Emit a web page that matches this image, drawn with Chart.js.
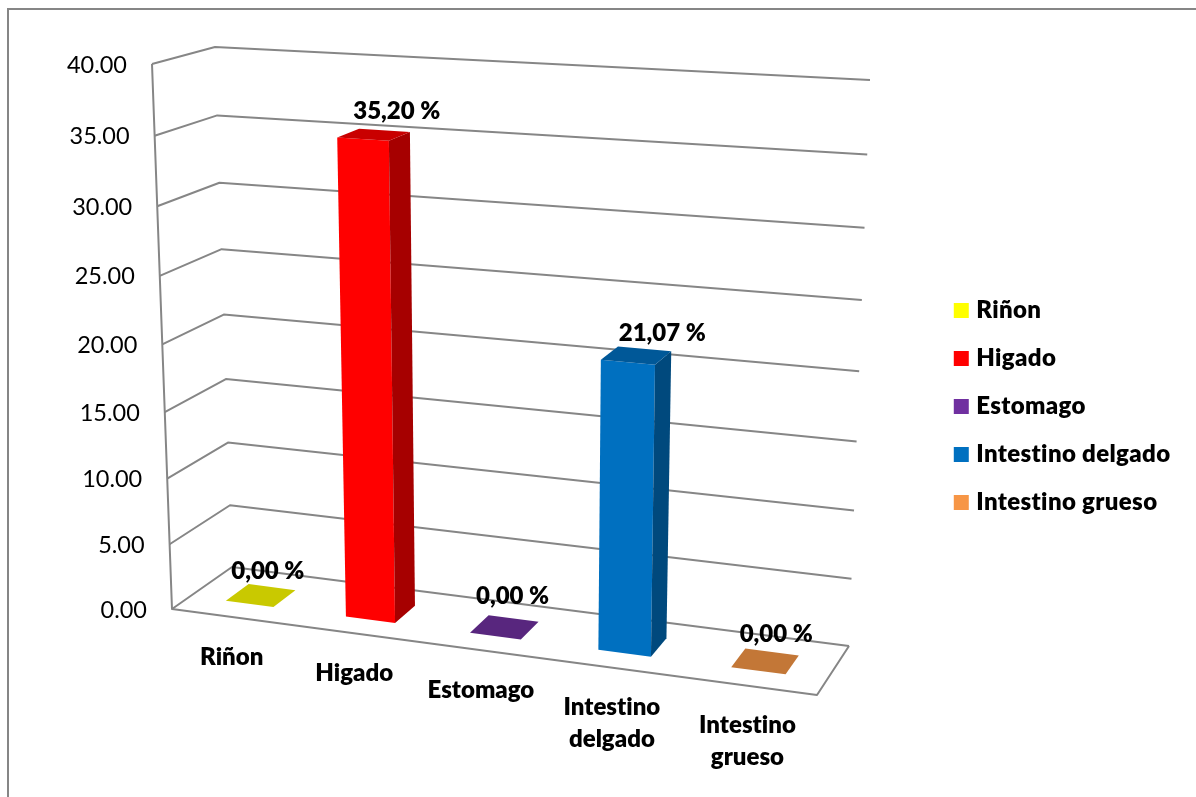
<!DOCTYPE html>
<html lang="es">
<head>
<meta charset="utf-8">
<title>Órganos</title>
<style>
  html, body { margin: 0; padding: 0; background: #fff; overflow: hidden; }
  #contenedor { width: 1196px; height: 797px; }
</style>
<script src="https://cdn.jsdelivr.net/npm/chart.js@4/dist/chart.umd.min.js"></script>
</head>
<body>
<div id="contenedor"><canvas id="grafico"></canvas></div>
<script>
const categorias = ['Riñon', 'Higado', 'Estomago', 'Intestino delgado', 'Intestino grueso'];
const lineasCategoria = [['Riñon'], ['Higado'], ['Estomago'], ['Intestino', 'delgado'], ['Intestino', 'grueso']];
const valores = [0, 35.20, 0, 21.07, 0];
const etiquetasValor = ['0,00 %', '35,20 %', '0,00 %', '21,07 %', '0,00 %'];
const etiquetasEjeY = ['0.00', '5.00', '10.00', '15.00', '20.00', '25.00', '30.00', '35.00', '40.00'];
const colores = ['#FFFF00', '#FF0000', '#7030A0', '#0070C0', '#F79646'];

const COLOR_LINEA = '#868686';
const FUENTE = 'Lato, sans-serif';
const PESO_NEGRITA = '800';

// Caja de perspectiva: plano frontal y plano del fondo, en pixeles
const CAJA = {
  frente: { bi: [172, 609], bd: [817, 695], ai: [152, 64], ad: [834, 105] },
  fondo: { bi: [232, 567], bd: [849, 646], ai: [215, 47], ad: [870, 80] }
};
const FONDO_BARRA = [0.31, 0.70]; // profundidad ocupada por cada barra
const CONV_X = 1.088;
const CONV_Y = 1.06;
const AJUSTE_ETIQUETA = [[7, -24], [23, -23], [8, -31], [26, -22], [11, -27]];

const mezcla = (a, b, t) => [a[0] + (b[0] - a[0]) * t, a[1] + (b[1] - a[1]) * t];
const fuga = (t, c) => t / (t + c * (1 - t));

function puntoPlano(plano, u, v) {
  return mezcla(mezcla(plano.bi, plano.bd, u), mezcla(plano.ai, plano.ad, u), v);
}

// u y v ya deformados, d: 0 al frente, 1 al fondo
function proyectar(u, v, d) {
  return mezcla(puntoPlano(CAJA.frente, u, v), puntoPlano(CAJA.fondo, u, v), d);
}

function oscurecer(hex, factor) {
  const n = parseInt(hex.slice(1), 16);
  const canal = (s) => Math.round(((n >> s) & 255) * factor);
  return `rgb(${canal(16)},${canal(8)},${canal(0)})`;
}

function linea(ctx, puntos) {
  ctx.beginPath();
  puntos.forEach((p, i) => (i ? ctx.lineTo(p[0], p[1]) : ctx.moveTo(p[0], p[1])));
  ctx.stroke();
}

function cara(ctx, puntos, color) {
  ctx.fillStyle = color;
  ctx.beginPath();
  puntos.forEach((p, i) => (i ? ctx.lineTo(p[0], p[1]) : ctx.moveTo(p[0], p[1])));
  ctx.closePath();
  ctx.fill();
}

function texto(ctx, cadena, x, y, alineado, fuente) {
  ctx.font = fuente;
  ctx.fillStyle = '#000';
  ctx.textAlign = alineado;
  ctx.textBaseline = 'middle';
  ctx.fillText(cadena, x, y);
}

function dibujarParedes(ctx, escalaY) {
  ctx.strokeStyle = COLOR_LINEA;
  ctx.lineWidth = 2;
  ctx.lineJoin = 'round';

  escalaY.ticks.forEach((tick, i) => {
    const pix = escalaY.getPixelForValue(tick.value);
    const v = fuga((escalaY.bottom - pix) / escalaY.height, CONV_Y);
    linea(ctx, [proyectar(0, v, 0), proyectar(0, v, 1), proyectar(1, v, 1)]);
    const p = proyectar(0, v, 0);
    texto(ctx, etiquetasEjeY[i], p[0] - 25, p[1] + 1, 'right', `23.5px ${FUENTE}`);
  });

  linea(ctx, [proyectar(0, 1, 0), proyectar(0, 0, 0), proyectar(1, 0, 0), proyectar(1, 0, 1)]);
}

function dibujarBarras(chart, ctx) {
  const area = chart.chartArea;
  const barras = chart.getDatasetMeta(0).data;
  const negrita = `${PESO_NEGRITA} 24px ${FUENTE}`;

  barras.forEach((barra, i) => {
    const uI = fuga((barra.x - barra.width / 2 - area.left) / area.width, CONV_X);
    const uD = fuga((barra.x + barra.width / 2 - area.left) / area.width, CONV_X);
    const alto = fuga((area.bottom - barra.y) / area.height, CONV_Y);
    const [d0, d1] = FONDO_BARRA;
    const color = colores[i];

    if (alto > 0) {
      cara(ctx, [proyectar(uI, 0, d0), proyectar(uD, 0, d0), proyectar(uD, alto, d0), proyectar(uI, alto, d0)], color);
      cara(ctx, [proyectar(uD, 0, d0), proyectar(uD, 0, d1), proyectar(uD, alto, d1), proyectar(uD, alto, d0)], oscurecer(color, 0.65));
    }
    cara(ctx, [proyectar(uI, alto, d0), proyectar(uD, alto, d0), proyectar(uD, alto, d1), proyectar(uI, alto, d1)], oscurecer(color, 0.79));

    const centro = proyectar((uI + uD) / 2, alto, (d0 + d1) / 2);
    const ajuste = AJUSTE_ETIQUETA[i];
    texto(ctx, etiquetasValor[i], centro[0] + ajuste[0], centro[1] + ajuste[1], 'center', negrita);

    const base = proyectar(fuga((barra.x - area.left) / area.width, CONV_X), 0, 0);
    lineasCategoria[i].forEach((t, n) => {
      texto(ctx, t, base[0], base[1] + 40 + n * 32, 'center', negrita);
    });
  });
}

const perspectiva = {
  id: 'perspectiva',
  beforeDraw(chart) {
    const ctx = chart.ctx;
    // sin ligaduras en "ti"; la leyenda se pinta antes que las barras y lleva algo mas de aire
    ctx.textRendering = 'optimizeSpeed';
    ctx.letterSpacing = '0.35px';
    ctx.save();
    ctx.strokeStyle = COLOR_LINEA;
    ctx.lineWidth = 2;
    linea(ctx, [[8, chart.height], [8, 9], [chart.width, 9]]);
    ctx.restore();
  },
  // Las barras planas no se pintan: se redibujan con sus caras en perspectiva
  beforeDatasetsDraw(chart) {
    const ctx = chart.ctx;
    ctx.letterSpacing = '0px';
    ctx.save();
    dibujarParedes(ctx, chart.scales.y);
    dibujarBarras(chart, ctx);
    ctx.restore();
    return false;
  }
};

new Chart(document.getElementById('grafico'), {
  type: 'bar',
  data: {
    labels: categorias,
    datasets: [{ data: valores, backgroundColor: colores, categoryPercentage: 0.8, barPercentage: 0.5 }]
  },
  options: {
    responsive: true,
    maintainAspectRatio: false,
    animation: false,
    layout: { padding: { top: 16, right: 21 } },
    scales: {
      x: { display: false },
      y: { display: false, min: 0, max: 40, ticks: { stepSize: 5 } }
    },
    plugins: {
      tooltip: { enabled: false },
      legend: {
        position: 'right',
        labels: {
          boxWidth: 6,
          boxHeight: 6,
          padding: 24,
          color: '#000',
          font: { family: 'Lato', size: 24, weight: PESO_NEGRITA },
          // el trazo ensancha el cuadro y deja el texto mas cerca
          generateLabels: () => categorias.map((nombre, i) => ({
            text: nombre,
            fillStyle: colores[i],
            strokeStyle: colores[i],
            lineWidth: 9,
            index: i
          }))
        }
      }
    }
  },
  plugins: [perspectiva]
});
</script>
</body>
</html>
